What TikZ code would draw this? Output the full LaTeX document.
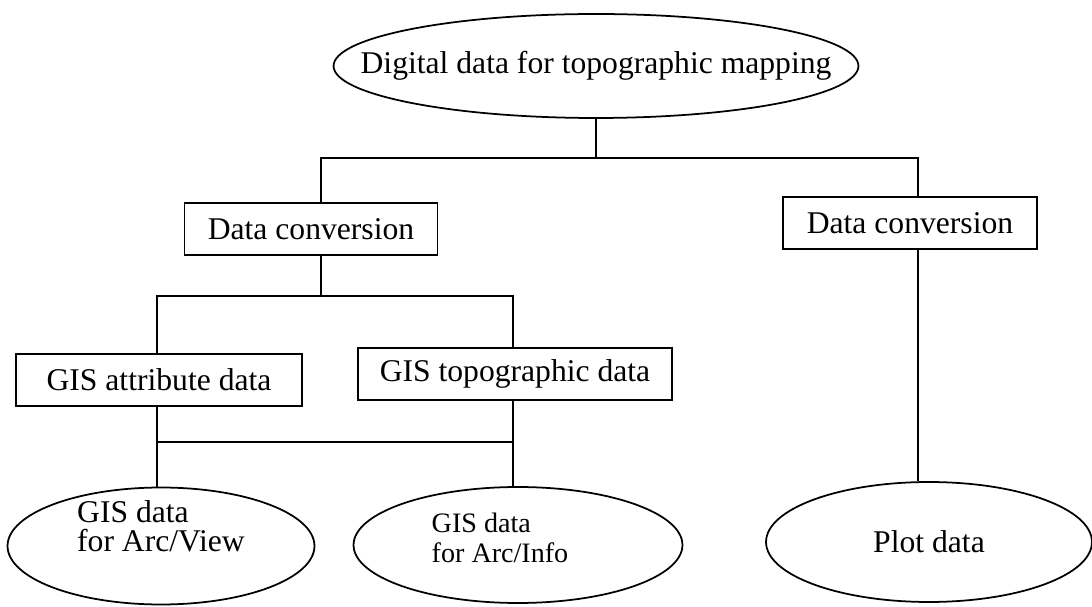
\documentclass[tikz,border=0pt]{standalone}
\usepackage{fontspec}
\setmainfont{Liberation Serif}
\begin{document}
\begin{tikzpicture}[x=0.02cm,y=-0.02cm,line width=1pt,
    box/.style={draw,rectangle,minimum height=1.04cm,inner sep=0pt,font=\fontsize{18}{17}\selectfont},
    oval/.style={rectangle,inner sep=0pt,align=left,font=\fontsize{18}{17}\selectfont}]
    \useasboundingbox (0,0) rectangle (1092,607);
    % ovals: the node holds the text, the ellipse is drawn round it
    \node[oval,minimum width=10.5cm,minimum height=2.08cm] (top) at (596,66) {Digital data for topographic mapping};
    \draw (top) ellipse [x radius=5.25cm,y radius=1.04cm];
    \node[oval,minimum width=6.14cm,minimum height=2.34cm,text depth=0.8cm] (view) at (161,546) {GIS data\\for Arc/View};
    \draw (view) ellipse [x radius=3.07cm,y radius=1.17cm];
    \node[oval,minimum width=6.58cm,minimum height=2.32cm,text depth=0.3cm,font=\fontsize{16}{17}\selectfont] (info) at (500,545) {GIS data\\for Arc/Info};
    \draw ([xshift=0.36cm]info.center) ellipse [x radius=3.29cm,y radius=1.16cm];
    \node[oval,minimum width=6.52cm,minimum height=2.4cm] (plot) at (929,542) {Plot data};
    \draw (plot) ellipse [x radius=3.26cm,y radius=1.2cm];
    % boxes
    \node[box,minimum width=5.06cm] (ldc) at (311,229) {Data conversion};
    \node[box,minimum width=5.08cm] (rdc) at (910,223) {Data conversion};
    \node[box,minimum width=5.72cm] (attr) at (159,380) {GIS attribute data};
    \node[box,minimum width=6.28cm] (topo) at (515,374) {GIS topographic data};
    % columns and bars of the tree
    \coordinate (lcol) at (321,0);
    \coordinate (rcol) at (918,0);
    \coordinate (acol) at (157,0);
    \coordinate (tcol) at (513,0);
    \coordinate (bar1) at (0,158);
    \coordinate (bar2) at (0,296);
    \coordinate (bar3) at (0,442);
    \draw (top.south) -- (top.south |- bar1);
    \draw (lcol |- ldc.north) -- (lcol |- bar1) -- (rcol |- bar1) -- (rcol |- rdc.north);
    \draw (rcol |- rdc.south) -- (rcol |- plot.north);
    \draw (lcol |- ldc.south) -- (lcol |- bar2);
    \draw (acol |- attr.north) -- (acol |- bar2) -- (tcol |- bar2) -- (tcol |- topo.north);
    \draw (acol |- attr.south) -- (acol |- view.north);
    \draw (tcol |- topo.south) -- (tcol |- info.north);
    \draw (acol |- bar3) -- (tcol |- bar3);
\end{tikzpicture}
\end{document}
